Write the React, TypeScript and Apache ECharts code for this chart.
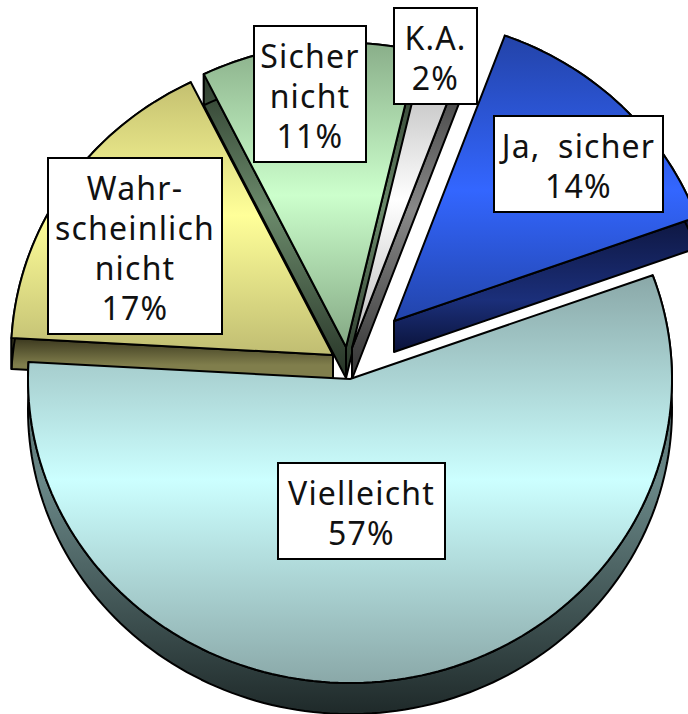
import React, { useEffect, useRef } from "react";
import * as echarts from "echarts";

// Data, clockwise from the left edge of the pie
const categories = ["Wahr-\nscheinlich\nnicht", "Sicher\nnicht", "K.A.", "Ja, sicher", "Vielleicht"];
const values = [17, 11, 2, 14, 57];

// Layout
const START_ANGLE = 176.8;
const RX = 322;
const RY = 304;
const DEPTH = 31;
const apexes = [[333, 355], [346, 347], [352, 348], [394, 321], [350, 379]];
const labelBoxes = [
  [48, 158, 174, 176],
  [254, 26, 112, 136],
  [394, 8, 83, 96],
  [494, 116, 169, 96],
  [278, 463, 167, 96],
];

// Styles: [y, colour] stops in page coordinates
const topStops: [number, string][][] = [
  [[82, "#c4c070"], [215, "#ffff99"], [355, "#c0bd72"]],
  [[44, "#8aaf8a"], [195, "#ccffcc"], [347, "#84a884"]],
  [[52, "#b0b0b0"], [200, "#ffffff"], [348, "#b8b8b8"]],
  [[36, "#2343a8"], [190, "#3366ff"], [321, "#2244aa"]],
  [[276, "#8aa8a8"], [480, "#ccffff"], [683, "#8aa8a8"]],
];
const wallStops: [number, string][][] = [
  [[339, "#3d3a20"], [365, "#807e4c"], [380, "#807e4c"]],
  [[74, "#2e3d2e"], [210, "#6b8a6b"], [378, "#263326"]],
  [[85, "#444444"], [210, "#888888"], [378, "#333333"]],
  [[220, "#0e1742"], [300, "#1b2f7a"], [353, "#0a1238"]],
  [[276, "#3a4a4a"], [480, "#6a8888"], [713, "#1f2a2a"]],
];

const total = values.reduce((a, b) => a + b, 0);

function gradient(stops: [number, string][]) {
  const y0 = stops[0][0];
  const y1 = stops[stops.length - 1][0];
  return new echarts.graphic.LinearGradient(
    0, y0, 0, y1,
    stops.map(([y, color]) => ({ offset: (y - y0) / (y1 - y0), color })),
    true
  );
}

function sliceAngles(index: number) {
  let from = START_ANGLE;
  for (let i = 0; i < index; i++) from -= (values[i] / total) * 360;
  return [from, from - (values[index] / total) * 360];
}

// A radial face can be seen only when the slice lies above that edge.
function faceVisible(edgeDeg: number, midDeg: number) {
  const e = (edgeDeg * Math.PI) / 180;
  const m = (midDeg * Math.PI) / 180;
  const cross = Math.sin(m - e);
  return Math.cos(e) > 0 ? cross > 0 : cross < 0;
}

function renderSlice(params: any) {
  const i = params.dataIndex;
  const [ax, ay] = apexes[i];
  const [a0, a1] = sliceAngles(i);
  const mid = (a0 + a1) / 2;
  const steps = Math.max(8, Math.ceil((a0 - a1) / 1.5));
  const arc: number[][] = [];
  for (let s = 0; s <= steps; s++) {
    const t = ((a0 + ((a1 - a0) * s) / steps) * Math.PI) / 180;
    arc.push([ax + RX * Math.cos(t), ay - RY * Math.sin(t)]);
  }
  const down = (p: number[]) => [p[0], p[1] + DEPTH];
  const wallStyle = {
    fill: gradient(wallStops[i]),
    stroke: "#000000",
    lineWidth: 2,
    lineJoin: "round",
  };
  const first = arc[0];
  const last = arc[arc.length - 1];
  const apex = [ax, ay];
  const children: any[] = [];
  if (faceVisible(a0, mid)) {
    children.push({ type: "polygon", shape: { points: [apex, first, down(first), down(apex)] }, style: wallStyle });
  }
  if (faceVisible(a1, mid)) {
    children.push({ type: "polygon", shape: { points: [apex, last, down(last), down(apex)] }, style: wallStyle });
  }
  children.push({
    type: "polygon",
    shape: { points: [...arc, ...arc.slice().reverse().map(down)] },
    style: wallStyle,
  });
  children.push({
    type: "polygon",
    shape: { points: [apex, ...arc] },
    style: { fill: gradient(topStops[i]), stroke: "#000000", lineWidth: 2, lineJoin: "round" },
  });
  return { type: "group", children };
}

function renderLabel(params: any, api: any) {
  const i = params.dataIndex;
  const [x, y, w, h] = labelBoxes[i];
  return {
    type: "group",
    children: [
      {
        type: "rect",
        shape: { x, y, width: w, height: h },
        style: { fill: "#ffffff", stroke: "#000000", lineWidth: 2 },
      },
      {
        type: "text",
        x: x + w / 2,
        y: y + h / 2 + 1,
        style: {
          text: `${categories[i]}\n${api.value(0)}%`,
          fontFamily: "Noto Sans",
          fontSize: 32,
          lineHeight: 40,
          fill: "#111111",
          align: "center",
          verticalAlign: "middle",
        },
      },
    ],
  };
}

export default function App() {
  const ref = useRef<HTMLDivElement>(null);
  useEffect(() => {
    const chart = echarts.init(ref.current!, null, { renderer: "svg" });
    chart.setOption({
      animation: false,
      backgroundColor: "#ffffff",
      series: [
        { type: "custom", coordinateSystem: "none", silent: true, z: 1, data: values, renderItem: renderSlice },
        { type: "custom", coordinateSystem: "none", silent: true, z: 2, data: values, renderItem: renderLabel },
      ],
    });
    return () => chart.dispose();
  }, []);
  return (
    <>
      <style>{`svg text { letter-spacing: 1.2px; word-spacing: 8px; }`}</style>
      <div ref={ref} style={{ position: "absolute", left: 0, top: 0, width: 688, height: 714 }} />
    </>
  );
}
